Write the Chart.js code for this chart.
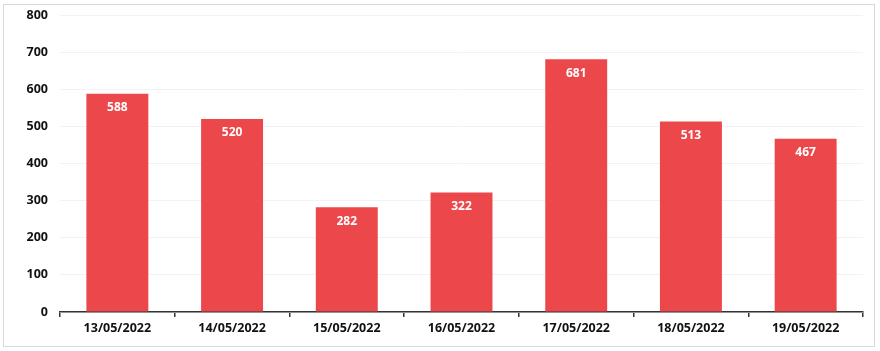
<!DOCTYPE html>
<html><head><meta charset="utf-8">
<script src="https://cdn.jsdelivr.net/npm/chart.js@4"></script>
<style>
html,body{margin:0;padding:0;background:#fff;}
#wrap{position:absolute;left:0;top:0;width:880px;height:351px;}
#frame{position:absolute;left:3px;top:4px;width:870px;height:341px;border:1px solid #d9d9d9;pointer-events:none;}
</style></head>
<body>
<div id="wrap"><canvas id="c" width="880" height="351"></canvas></div>
<div id="frame"></div>
<script>
const categories = ["13/05/2022","14/05/2022","15/05/2022","16/05/2022","17/05/2022","18/05/2022","19/05/2022"];
const values = [588,520,282,322,681,513,467];
const yTicks = [0,100,200,300,400,500,600,700,800];

const FONT = "'Open Sans', sans-serif";

const labelPlugin = {
  id:'barLabels',
  afterDatasetsDraw(chart){
    const ctx = chart.ctx;
    const meta = chart.getDatasetMeta(0);
    ctx.save();
    ctx.fillStyle = '#ffffff';
    ctx.font = "bold 12px " + FONT;
    ctx.textAlign = 'center';
    ctx.textBaseline = 'middle';
    meta.data.forEach((bar,i)=>{
      ctx.fillText(String(values[i]), bar.x, bar.y + 14);
    });
    ctx.restore();
  }
};

new Chart(document.getElementById('c'), {
  type:'bar',
  data:{labels:categories, datasets:[{data:values, backgroundColor:'#EC484B', borderWidth:0, barPercentage:0.54, categoryPercentage:1}]},
  options:{
    responsive:false, animation:false,
    layout:{padding:{top:0,right:17,left:0,bottom:0}},
    plugins:{legend:{display:false}, tooltip:{enabled:false}},
    scales:{
      x:{
        grid:{display:true, drawOnChartArea:false, drawTicks:true, tickLength:5, color:'#333', lineWidth:1.5, offset:true},
        border:{display:true, color:'#333', width:1.5},
        ticks:{color:'#111', font:{family:FONT, weight:'bold', size:12.5}, padding:4, maxRotation:0},
        afterFit(s){ s.height = 39; }
      },
      y:{
        min:0, max:800,
        afterBuildTicks(s){ s.ticks = yTicks.map(v=>({value:v})); },
        grid:{color:'#f2f2f2', drawTicks:false},
        border:{display:false},
        ticks:{color:'#111', font:{family:FONT, weight:'bold', size:12.5}, padding:12},
        afterFit(s){ s.width = 60; s.paddingTop = 15; }
      }
    }
  },
  plugins:[labelPlugin]
});
</script>
</body></html>
